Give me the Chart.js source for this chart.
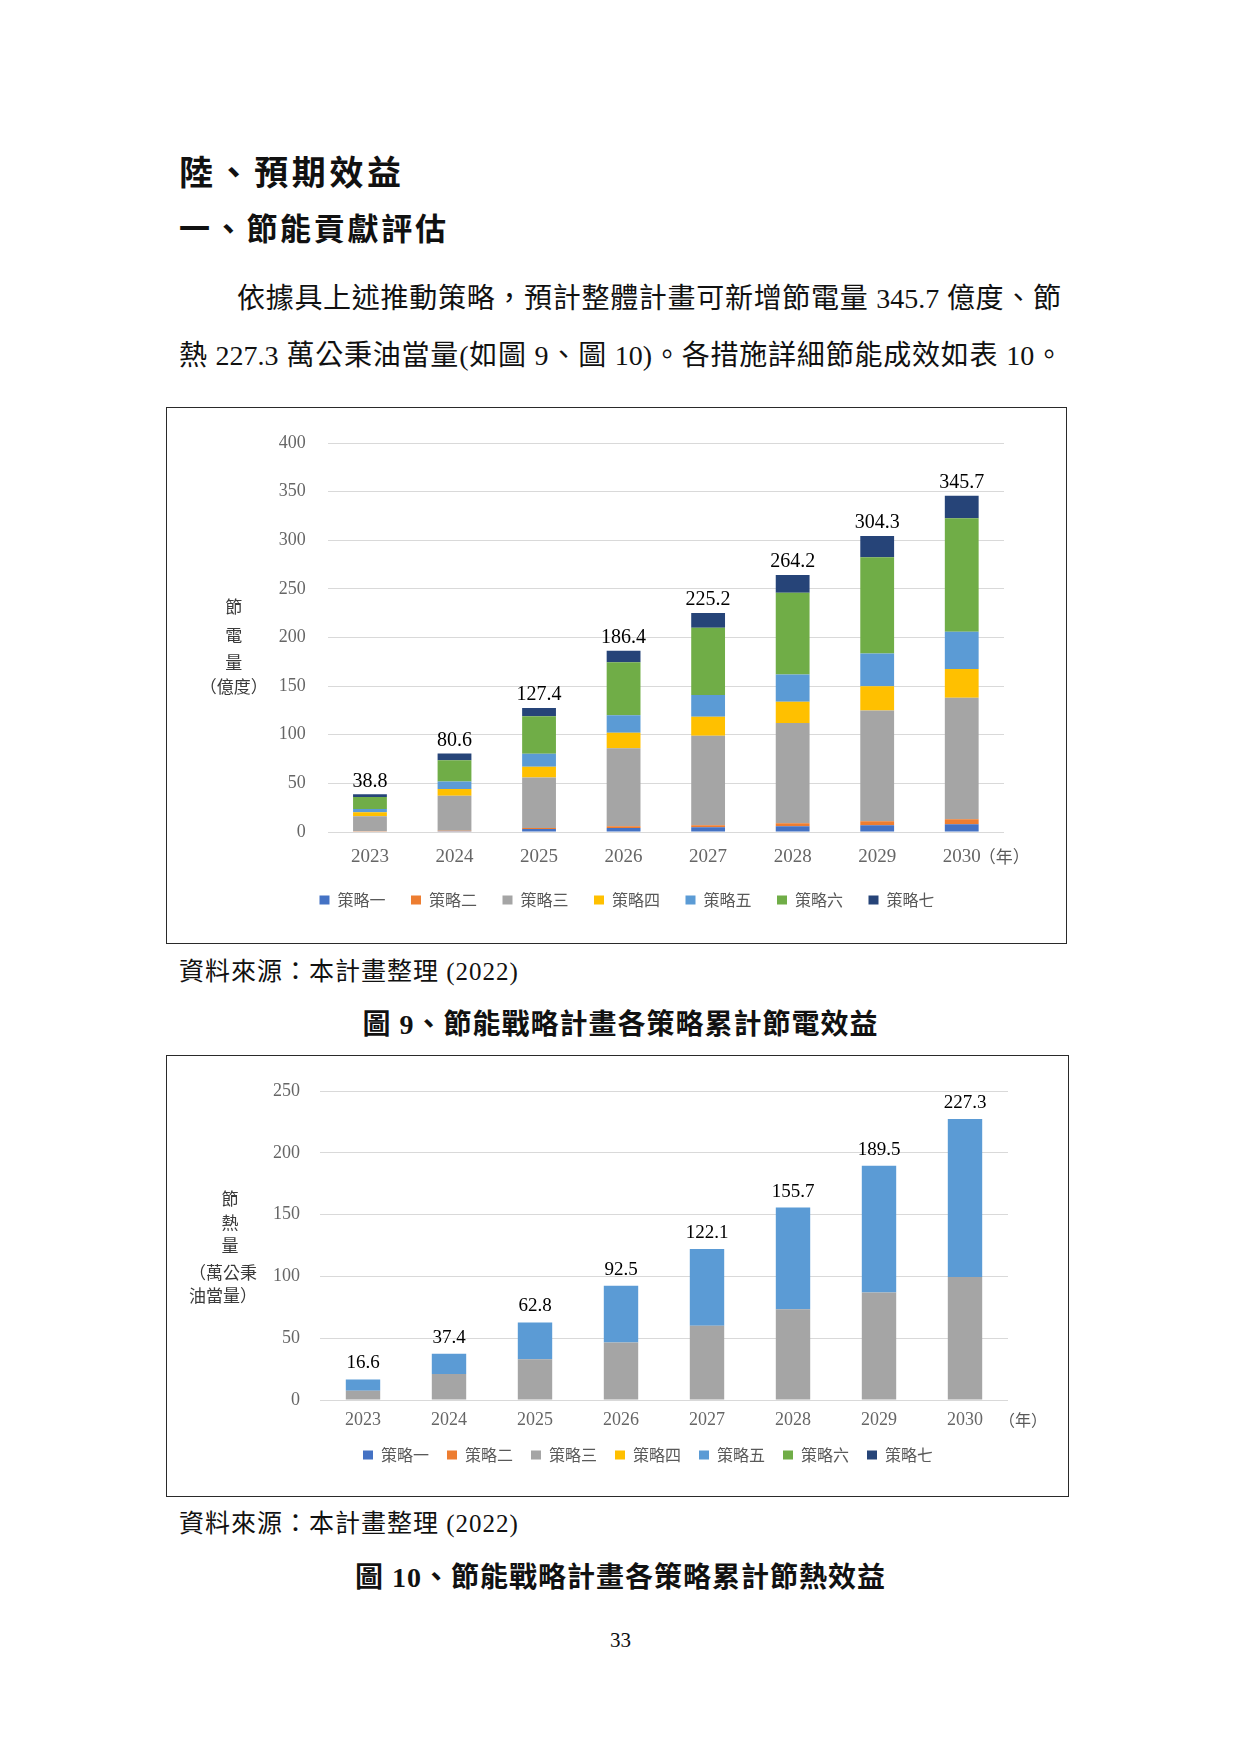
<!DOCTYPE html>
<html lang="zh-Hant">
<head>
<meta charset="utf-8">
<title>預期效益 — 節能貢獻評估</title>
<script src="https://cdn.jsdelivr.net/npm/chart.js@4.4.0/dist/chart.umd.min.js"></script>
<style>
  html, body { margin: 0; padding: 0; background: #fff; }
  body {
    width: 1241px; height: 1754px; position: relative; overflow: hidden;
    color: #111; font-family: 'Liberation Serif', 'Noto Sans CJK TC', serif;
  }
  .t { position: absolute; white-space: nowrap; }
  .h1 { left: 179px; top: 146px; height: 50px; line-height: 50px; font-size: 34px; font-weight: 700; letter-spacing: 3.6px; font-family: 'Noto Sans CJK TC', sans-serif; }
  .h2 { left: 179px; top: 204px; height: 46px; line-height: 46px; font-size: 31px; font-weight: 700; letter-spacing: 2.7px; font-family: 'Noto Sans CJK TC', sans-serif; }
  .p  { height: 40px; line-height: 40px; font-size: 28px; text-align: justify; text-align-last: justify; }
  .src { left: 179px; height: 36px; line-height: 36px; font-size: 25px; letter-spacing: 1px; }
  .cap { left: 0; width: 1241px; text-align: center; height: 40px; line-height: 40px; font-size: 28px; font-weight: 700; letter-spacing: 1px; }
  .pg { left: 0; width: 1241px; text-align: center; top: 1626px; height: 28px; line-height: 28px; font-size: 21px; }
  .chartbox { position: absolute; }
  .frame { position: absolute; box-sizing: border-box; border: 1.5px solid #2a2a2a; pointer-events: none; }
</style>
</head>
<body>

<div class="t h1">陸、預期效益</div>
<div class="t h2">一、節能貢獻評估</div>
<div class="t p" style="left:237px;width:824px;top:279px">依據具上述推動策略，預計整體計畫可新增節電量 345.7 億度、節</div>
<div class="t p" style="left:179px;width:884px;top:336px">熱 227.3 萬公秉油當量(如圖 9、圖 10)。各措施詳細節能成效如表 10。</div>

<div class="chartbox" style="left:166px;top:407px;width:901px;height:537px"><canvas id="elecChart"></canvas></div>
<div class="frame" style="left:166px;top:407px;width:901px;height:537px"></div>

<div class="t src" style="top:954px">資料來源：本計畫整理 (2022)</div>
<div class="t cap" style="top:1005px">圖 9、節能戰略計畫各策略累計節電效益</div>

<div class="chartbox" style="left:166px;top:1055px;width:903px;height:442px"><canvas id="heatChart"></canvas></div>
<div class="frame" style="left:166px;top:1055px;width:903px;height:442px"></div>

<div class="t src" style="top:1506px">資料來源：本計畫整理 (2022)</div>
<div class="t cap" style="top:1558px">圖 10、節能戰略計畫各策略累計節熱效益</div>

<div class="t pg">33</div>

<script>
/* ── data ─────────────────────────────────────────── */
const YEARS = ['2023', '2024', '2025', '2026', '2027', '2028', '2029', '2030'];
const SERIES_NAMES = ['策略一', '策略二', '策略三', '策略四', '策略五', '策略六', '策略七'];

// 圖 9 累計節電量 (億度)
const elecS1 = [0.4, 0.8, 3, 4, 5, 6, 7, 8];
const elecS2 = [0.3, 0.5, 1, 2, 2, 3, 4, 5];
const elecS3 = [15.5, 36, 52, 80, 92, 103, 114, 125];
const elecS4 = [4, 7, 11, 16, 19.5, 22, 25, 29.5];
const elecS5 = [3.4, 7.5, 13.5, 18, 22.5, 28, 33.5, 38.5];
const elecS6 = [12.5, 22, 38.5, 54.5, 69, 84, 99, 116.5];
const elecS7 = [2.7, 6.8, 8.4, 11.9, 15.2, 18.2, 21.8, 23.2];
const elecTotals = [38.8, 80.6, 127.4, 186.4, 225.2, 264.2, 304.3, 345.7];
const elecTicks = [0, 50, 100, 150, 200, 250, 300, 350, 400];

// 圖 10 累計節熱量 (萬公秉油當量)
const heatS1 = [0, 0, 0, 0, 0, 0, 0, 0];
const heatS2 = [0, 0, 0, 0, 0, 0, 0, 0];
const heatS3 = [7.5, 21, 33, 46.5, 60, 73.5, 87, 99.5];
const heatS4 = [0, 0, 0, 0, 0, 0, 0, 0];
const heatS5 = [9.1, 16.4, 29.8, 46, 62.1, 82.2, 102.5, 127.8];
const heatS6 = [0, 0, 0, 0, 0, 0, 0, 0];
const heatS7 = [0, 0, 0, 0, 0, 0, 0, 0];
const heatTotals = [16.6, 37.4, 62.8, 92.5, 122.1, 155.7, 189.5, 227.3];
const heatTicks = [0, 50, 100, 150, 200, 250];

/* ── styling ──────────────────────────────────────── */
const SERIES_COLORS = ['#4472C4', '#ED7D31', '#A5A5A5', '#FFC000', '#5B9BD5', '#70AD47', '#264478'];
const SERIF = "'Liberation Serif', 'Noto Sans CJK TC', serif";
const CJK = "'Noto Sans CJK TC', sans-serif";

/* totals above stacks, (年) unit and the stacked y title */
function overlay(o) {
  return {
    id: 'overlay',
    afterLayout(chart) {
      // legend is centred under the plot in the original, nudge it over
      if (o.legendShift && chart.legend) {
        chart.legend.left += o.legendShift;
        chart.legend.right += o.legendShift;
      }
    },
    afterDraw(chart) {
      const { ctx, chartArea, scales: { x, y } } = chart;
      ctx.save();
      ctx.textAlign = 'center';
      ctx.textBaseline = 'middle';

      ctx.fillStyle = '#000';
      ctx.font = `${o.labelSize}px ${SERIF}`;
      o.totals.forEach((t, i) => {
        const top = chart.data.datasets.reduce((s, d) => s + d.data[i], 0);
        ctx.fillText(t.toFixed(1), x.getPixelForValue(i), y.getPixelForValue(top) - o.labelGap);
      });

      ctx.fillStyle = '#595959';
      ctx.font = `${o.unitSize}px ${CJK}`;
      ctx.textAlign = 'left';
      ctx.fillText('（年）', x.getPixelForValue(YEARS.length - 1) + o.unitDx, x.top + o.xPad + o.xFont / 2);

      ctx.fillStyle = '#3a3a3a';
      ctx.font = `17px ${CJK}`;
      ctx.textAlign = 'center';
      const base = y.getPixelForValue(o.titleAnchor);
      o.title.forEach(([txt, dx, dy]) => ctx.fillText(txt, chartArea.left + dx, base + dy));
      ctx.restore();
    }
  };
}

function buildChart(id, series, o) {
  const datasets = SERIES_NAMES.map((name, k) => ({
    label: name,
    data: series[k],
    backgroundColor: SERIES_COLORS[k],
    borderWidth: 0,
    barPercentage: 0.4,
    categoryPercentage: 1.0
  }));

  return new Chart(document.getElementById(id), {
    type: 'bar',
    data: { labels: YEARS, datasets },
    options: {
      responsive: true,
      maintainAspectRatio: false,
      animation: false,
      layout: { padding: o.padding },
      plugins: {
        tooltip: { enabled: false },
        legend: {
          position: 'bottom',
          labels: {
            boxWidth: 10, boxHeight: 9, padding: o.legendPad,
            color: '#595959', font: { family: CJK, size: 16, lineHeight: 1 }
          }
        }
      },
      scales: {
        x: {
          stacked: true,
          afterFit: s => { s.height = o.xPad + o.xFont; },
          grid: { display: false, drawTicks: false },
          border: { display: false },
          ticks: {
            padding: o.xPad, color: '#666', maxRotation: 0, autoSkip: false,
            font: { family: SERIF, size: o.xFont, lineHeight: 1 }
          }
        },
        y: {
          stacked: true,
          min: 0,
          max: o.ticks[o.ticks.length - 1],
          afterFit: s => { s.width = o.yWidth; },
          afterBuildTicks: s => { s.ticks = o.ticks.map(v => ({ value: v })); },
          grid: { color: '#d9d9d9', lineWidth: 1, drawTicks: false },
          border: { display: false },
          ticks: { padding: o.yPad, color: '#666', font: { family: SERIF, size: 18, lineHeight: 1 } }
        }
      }
    },
    plugins: [overlay(o)]
  });
}

buildChart('elecChart',
  [elecS1, elecS2, elecS3, elecS4, elecS5, elecS6, elecS7],
  {
    ticks: elecTicks, totals: elecTotals,
    padding: { left: 84, right: 63, top: 36, bottom: 26 },
    yWidth: 77.7, yPad: 22, xPad: 15.5, xFont: 19, legendPad: 25.5, legendShift: 0,
    labelSize: 20, labelGap: 13, unitDx: 17, unitSize: 17,
    titleAnchor: 150,
    title: [['節', -94, -80], ['電', -94, -51], ['量', -94, -24], ['（億度）', -94, 0]]
  });

buildChart('heatChart',
  [heatS1, heatS2, heatS3, heatS4, heatS5, heatS6, heatS7],
  {
    ticks: heatTicks, totals: heatTotals,
    padding: { left: 61, right: 61, top: 36, bottom: 24 },
    yWidth: 93, yPad: 20, xPad: 11, xFont: 18, legendPad: 18, legendShift: 30.5,
    labelSize: 19, labelGap: 16, unitDx: 34, unitSize: 16,
    titleAnchor: 100,
    title: [['節', -90, -78], ['熱', -90, -54], ['量', -90, -31], ['（萬公秉', -97, -4], ['油當量）', -97, 19]]
  });
</script>
</body>
</html>
